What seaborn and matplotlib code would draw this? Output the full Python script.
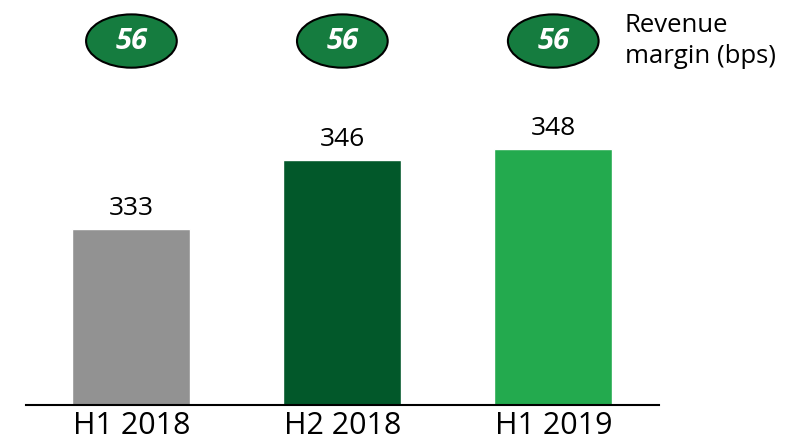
"""
Revenue by half-year with revenue margin badges.
"""

import matplotlib

matplotlib.use("Agg")

import matplotlib.pyplot as plt
import pandas as pd
import seaborn as sns
from matplotlib.patches import Ellipse


PERIODS = ["H1 2018", "H2 2018", "H1 2019"]
REVENUE = [333, 346, 348]
MARGIN_BPS = [56, 56, 56]
BAR_COLORS = ["#929292", "#02582A", "#23AA4E"]
BADGE_COLOR = "#157C3F"


def setup_style() -> None:
    sns.set_theme(style="white", rc={"figure.dpi": 100, "savefig.dpi": 100})
    plt.rcParams["font.family"] = ["Open Sans", "DejaVu Sans"]


def main() -> None:
    setup_style()
    df = pd.DataFrame({"period": PERIODS, "revenue": REVENUE})

    fig = plt.figure(figsize=(7.87, 4.40))
    ax = fig.add_axes([0.033, 0.0795, 0.804, 0.9205])

    sns.barplot(
        data=df,
        x="period",
        y="revenue",
        hue="period",
        palette=BAR_COLORS,
        legend=False,
        width=0.56,
        saturation=1,
        ax=ax,
    )

    ax.set_xlim(-0.5, 2.5)
    ax.set_ylim(300, 376)
    ax.set_xlabel("")
    ax.set_ylabel("")
    ax.set_yticks([])
    ax.tick_params(axis="x", length=0, pad=4, labelsize=22, colors="black")
    for side in ["top", "right", "left"]:
        ax.spines[side].set_visible(False)
    ax.spines["bottom"].set_color("black")
    ax.spines["bottom"].set_linewidth(1.5)

    for container in ax.containers:
        ax.bar_label(container, fmt="%d", padding=6, fontsize=19, color="black")

    # margin badges above the bars
    badge_y = 368.3
    for i, val in enumerate(MARGIN_BPS):
        ax.add_patch(
            Ellipse(
                (i, badge_y),
                width=0.43,
                height=10.0,
                facecolor=BADGE_COLOR,
                edgecolor="black",
                linewidth=1.5,
                clip_on=False,
            )
        )
        ax.text(
            i,
            badge_y,
            str(val),
            ha="center",
            va="center",
            fontsize=21,
            fontweight="bold",
            fontstyle="italic",
            color="white",
        )

    ax.text(
        2.34,
        badge_y,
        "Revenue\nmargin (bps)",
        ha="left",
        va="center",
        fontsize=18.5,
        color="black",
        linespacing=1.3,
        clip_on=False,
    )

    fig.savefig("out.png", dpi=100)
    plt.close(fig)


if __name__ == "__main__":
    main()
